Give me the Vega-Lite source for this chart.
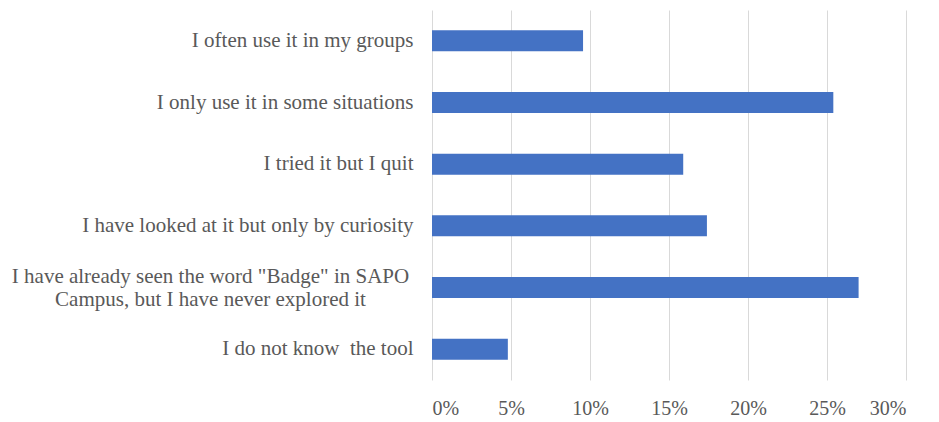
{
  "$schema": "https://vega.github.io/schema/vega-lite/v6.json",
  "width": 474,
  "height": 370,
  "autosize": "none",
  "padding": {"left": 432, "top": 10, "right": 33, "bottom": 42},
  "background": "white",
  "config": {"view": {"stroke": null}},
  "data": {
    "values": [
      {"answer": "I often use it in my groups", "pct": 0.0956},
      {"answer": "I only use it in some situations", "pct": 0.254},
      {"answer": "I tried it but I quit", "pct": 0.159},
      {"answer": "I have looked at it but only by curiosity", "pct": 0.174},
      {"answer": "I have already seen the word \"Badge\" in SAPO|Campus, but I have never explored it", "pct": 0.270},
      {"answer": "I do not know \u00a0the tool", "pct": 0.048}
    ]
  },
  "mark": {"type": "bar", "color": "#4472C4"},
  "encoding": {
    "y": {
      "field": "answer",
      "type": "nominal",
      "sort": null,
      "scale": {"paddingInner": 0.66, "paddingOuter": 0.33},
      "axis": {
        "title": null,
        "domain": false,
        "ticks": false,
        "labelFont": "Liberation Serif",
        "labelFontSize": 21,
        "labelColor": "#595959",
        "labelLimit": 0,
        "labelLineHeight": 23,
        "labelExpr": "split(datum.label, '|')",
        "labelAlign": {"condition": {"test": "indexof(datum.value, '|') >= 0", "value": "center"}, "value": "right"},
        "labelPadding": {"condition": {"test": "indexof(datum.value, '|') >= 0", "value": 222}, "value": 19},
        "labelOffset": {"condition": {"test": "indexof(datum.value, '|') >= 0", "value": -11}, "value": 0}
      }
    },
    "x": {
      "field": "pct",
      "type": "quantitative",
      "scale": {"domain": [0, 0.3], "nice": false},
      "axis": {
        "title": null,
        "format": ".0%",
        "values": [0, 0.05, 0.1, 0.15, 0.2, 0.25, 0.3],
        "domain": false,
        "ticks": false,
        "grid": true,
        "gridColor": "#d9d9d9",
        "labelFont": "Liberation Serif",
        "labelFontSize": 20,
        "labelColor": "#595959",
        "labelPadding": 18
      }
    }
  }
}
